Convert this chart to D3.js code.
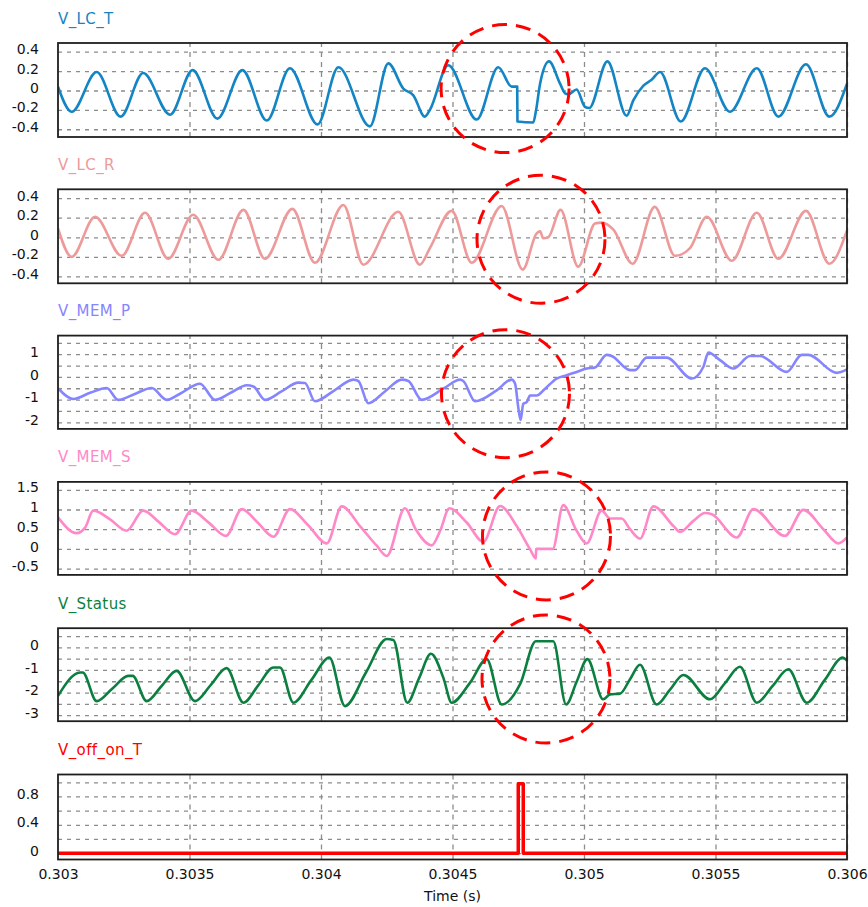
<!DOCTYPE html>
<html>
<head>
<meta charset="utf-8">
<script src="https://cdn.jsdelivr.net/npm/d3@7"></script>
<style>
  html, body { margin: 0; padding: 0; background: #fff; }
  svg { display: block; }
</style>
</head>
<body>
<svg id="chart" width="868" height="907"></svg>
<script>
// ---- Time axis ----
const timeDomain = [0.303, 0.306];
const timeTicks = [0.303, 0.3035, 0.304, 0.3045, 0.305, 0.3055, 0.306];
const timeTickLabels = ["0.303", "0.3035", "0.304", "0.3045", "0.305", "0.3055", "0.306"];
const timeAxisTitle = "Time (s)";

// ---- Waveforms: [time (s), value] ----
const vLcT = [
  [0.303000, 0.04], [0.303052, -0.22], [0.303147, 0.19], [0.303238, -0.27], [0.303324, 0.18],
  [0.303426, -0.25], [0.303512, 0.21], [0.303606, -0.29], [0.303701, 0.21], [0.303794, -0.31],
  [0.303882, 0.23], [0.303987, -0.35], [0.304066, 0.24], [0.304186, -0.37], [0.304256, 0.28],
  [0.304313, 0.02], [0.304351, -0.05], [0.304395, -0.27], [0.304414, -0.20], [0.304484, 0.26],
  [0.304592, -0.30], [0.304674, 0.24], [0.304725, 0.04], [0.304746, 0.04], [0.304747, -0.32],
  [0.304807, -0.33], [0.304818, -0.20], [0.304833, 0.07], [0.304867, 0.30], [0.304909, 0.07],
  [0.304928, -0.03], [0.304940, -0.04], [0.304972, 0.01], [0.305004, -0.17], [0.305020, -0.18],
  [0.305089, 0.30], [0.305162, -0.26], [0.305188, -0.10], [0.305226, 0.05], [0.305257, 0.11],
  [0.305289, 0.19], [0.305368, -0.32], [0.305460, 0.23], [0.305555, -0.22], [0.305657, 0.23],
  [0.305739, -0.27], [0.305844, 0.27], [0.305933, -0.27], [0.306000, 0.07]
];

const vLcR = [
  [0.303000, 0.09], [0.303052, -0.20], [0.303141, 0.21], [0.303242, -0.19], [0.303331, 0.25],
  [0.303419, -0.22], [0.303514, 0.23], [0.303610, -0.23], [0.303705, 0.28], [0.303787, -0.22],
  [0.303891, 0.29], [0.303977, -0.26], [0.304085, 0.33], [0.304161, -0.28], [0.304294, 0.26],
  [0.304376, -0.28], [0.304414, -0.11], [0.304497, 0.27], [0.304573, -0.26], [0.304687, 0.32],
  [0.304767, -0.33], [0.304820, 0.04], [0.304833, 0.06], [0.304845, -0.01], [0.304864, 0.00],
  [0.304911, 0.28], [0.304978, -0.30], [0.305042, 0.14], [0.305067, 0.15], [0.305111, 0.08],
  [0.305185, -0.27], [0.305269, 0.31], [0.305346, -0.19], [0.305403, -0.11], [0.305467, 0.21],
  [0.305562, -0.24], [0.305657, 0.25], [0.305739, -0.22], [0.305844, 0.27], [0.305933, -0.27],
  [0.306000, 0.07]
];

const vMemP = [
  [0.303000, -0.49], [0.303058, -0.97], [0.303122, -0.70], [0.303185, -0.49], [0.303229, -1.01],
  [0.303292, -0.75], [0.303356, -0.49], [0.303413, -1.01], [0.303464, -0.74], [0.303540, -0.30],
  [0.303597, -1.01], [0.303657, -0.70], [0.303718, -0.37], [0.303743, -0.42], [0.303787, -1.01],
  [0.303850, -0.64], [0.303914, -0.25], [0.303939, -0.27], [0.303977, -1.07], [0.304050, -0.60],
  [0.304123, -0.12], [0.304142, -0.18], [0.304180, -1.16], [0.304243, -0.64], [0.304307, -0.12],
  [0.304332, -0.18], [0.304383, -1.01], [0.304465, -0.52], [0.304529, -0.12], [0.304541, -0.18],
  [0.304586, -1.07], [0.304668, -0.59], [0.304725, -0.12], [0.304738, -0.30], [0.304750, -1.34],
  [0.304759, -1.90], [0.304769, -1.19], [0.304782, -1.11], [0.304795, -0.82], [0.304820, -0.82],
  [0.304852, -0.52], [0.304896, -0.07], [0.304934, 0.07], [0.304972, 0.22], [0.305010, 0.37],
  [0.305042, 0.42], [0.305086, 0.97], [0.305105, 0.92], [0.305175, 0.30], [0.305194, 0.30],
  [0.305238, 0.85], [0.305314, 0.85], [0.305410, -0.07], [0.305454, 0.45], [0.305473, 1.07],
  [0.305517, 0.74], [0.305568, 0.37], [0.305631, 0.92], [0.305669, 0.92], [0.305771, 0.22],
  [0.305828, 0.97], [0.305853, 0.97], [0.305961, 0.18], [0.306000, 0.33]
];

const vMemS = [
  [0.303000, 0.80], [0.303071, 0.40], [0.303103, 0.54], [0.303134, 0.97], [0.303198, 0.75],
  [0.303261, 0.46], [0.303324, 0.97], [0.303384, 0.68], [0.303445, 0.37], [0.303508, 0.97],
  [0.303574, 0.66], [0.303639, 0.33], [0.303699, 1.01], [0.303759, 0.67], [0.303819, 0.31],
  [0.303882, 1.01], [0.303951, 0.60], [0.304022, 0.14], [0.304079, 1.08], [0.304148, 0.58],
  [0.304212, 0.08], [0.304250, -0.18], [0.304319, 1.03], [0.304360, 0.50], [0.304421, 0.09],
  [0.304453, 0.46], [0.304488, 1.03], [0.304554, 0.67], [0.304617, 0.18], [0.304681, 1.09],
  [0.304744, 0.58], [0.304795, -0.01], [0.304817, -0.24], [0.304818, 0.00], [0.304881, 0.00],
  [0.304921, 1.11], [0.304972, 0.46], [0.305010, 0.14], [0.305067, 0.97], [0.305099, 0.77],
  [0.305143, 0.77], [0.305175, 0.50], [0.305213, 0.26], [0.305264, 1.08], [0.305340, 0.58],
  [0.305365, 0.43], [0.305416, 0.71], [0.305460, 0.91], [0.305486, 0.88], [0.305581, 0.29],
  [0.305644, 1.01], [0.305764, 0.33], [0.305834, 0.99], [0.305910, 0.50], [0.305967, 0.14],
  [0.306000, 0.29]
];

const vStatus = [
  [0.303000, -2.15], [0.303084, -1.11], [0.303094, -1.11], [0.303147, -2.38], [0.303207, -1.82],
  [0.303267, -1.26], [0.303284, -1.26], [0.303337, -2.38], [0.303394, -1.71], [0.303451, -1.04],
  [0.303521, -2.38], [0.303582, -1.65], [0.303641, -0.92], [0.303705, -2.45], [0.303762, -1.67],
  [0.303819, -0.89], [0.303844, -0.89], [0.303895, -2.45], [0.303963, -1.45], [0.304032, -0.45],
  [0.304091, -2.60], [0.304171, -1.11], [0.304250, 0.37], [0.304275, 0.33], [0.304328, -2.45],
  [0.304373, -1.36], [0.304418, -0.28], [0.304465, -1.34], [0.304497, -2.45], [0.304567, -1.56],
  [0.304630, -0.52], [0.304687, -2.53], [0.304757, -1.63], [0.304817, 0.27], [0.304883, 0.27],
  [0.304932, -2.53], [0.304972, -1.52], [0.305013, -0.52], [0.305073, -2.30], [0.305099, -2.08],
  [0.305137, -2.05], [0.305175, -1.41], [0.305213, -0.77], [0.305276, -2.53], [0.305327, -1.87],
  [0.305378, -1.22], [0.305479, -2.30], [0.305536, -1.58], [0.305593, -0.86], [0.305657, -2.45],
  [0.305717, -1.71], [0.305777, -0.97], [0.305847, -2.45], [0.305915, -1.45], [0.305984, -0.45],
  [0.306000, -0.59]
];

const vOffOnT = [
  [0.303000, 0], [0.304750, 0], [0.304750, 0.98], [0.304769, 0.98], [0.304769, 0], [0.306000, 0]
];

// ---- Panel definitions ----
const seriesNames = ["V_LC_T", "V_LC_R", "V_MEM_P", "V_MEM_S", "V_Status", "V_off_on_T"];
const seriesColors = ["#1485c4", "#ee9a9a", "#8585ff", "#ff88c8", "#0a7f3f", "#ff0000"];
const seriesData = [vLcT, vLcR, vMemP, vMemS, vStatus, vOffOnT];
const yDomains = [[-0.48, 0.49], [-0.47, 0.49], [-2.29, 1.82], [-0.66, 1.70], [-3.27, 0.85], [-0.09, 1.11]];
const yTickLabels = [
  [-0.4, -0.2, 0, 0.2, 0.4],
  [-0.4, -0.2, 0, 0.2, 0.4],
  [-2, -1, 0, 1],
  [-0.5, 0, 0.5, 1, 1.5],
  [-3, -2, -1, 0],
  [0, 0.4, 0.8]
];
const yGridValues = [
  [-0.4, -0.2, 0, 0.2, 0.4],
  [-0.4, -0.2, 0, 0.2, 0.4],
  [-2, -1.5, -1, -0.5, 0, 0.5, 1, 1.5],
  [-0.5, 0, 0.5, 1, 1.5],
  [-3, -2.5, -2, -1.5, -1, -0.5, 0, 0.5],
  [0, 0.2, 0.4, 0.6, 0.8, 1.0]
];

// Dashed ellipses marking the disturbance: panel, centre time, centre value
const highlights = [
  { panel: 0, t: 0.3047000, v: 0.02 },
  { panel: 1, t: 0.3048365, v: -0.02 },
  { panel: 2, t: 0.3047015, v: -0.74 },
  { panel: 3, t: 0.3048574, v: 0.33 },
  { panel: 4, t: 0.3048555, v: -1.40 }
];

// ---- Layout ----
const FONT = "'DejaVu Sans', Verdana, sans-serif";
const plotLeft = 58, plotRight = 847;
const firstTop = 43, panelStep = 146.3;
const panelHeights = [94, 94, 93.3, 93, 93, 85];

const svg = d3.select("#chart");
const x = d3.scaleLinear().domain(timeDomain).range([plotLeft, plotRight]);
const yScales = [];

seriesNames.forEach((name, i) => {
  const top = firstTop + i * panelStep;
  const h = panelHeights[i];
  const y = d3.scaleLinear().domain(yDomains[i]).range([top + h, top]);
  yScales.push(y);
  const g = svg.append("g");

  // Plot background
  g.append("rect")
    .attr("x", plotLeft).attr("y", top)
    .attr("width", plotRight - plotLeft).attr("height", h)
    .attr("fill", "#fff");

  // Horizontal grid
  const hGrid = g.append("g")
    .attr("transform", `translate(${plotLeft},0)`)
    .call(d3.axisLeft(y).tickValues(yGridValues[i]).tickSize(-(plotRight - plotLeft)).tickFormat(""));
  hGrid.select(".domain").remove();
  hGrid.selectAll("line")
    .attr("stroke", "#8c8c8c").attr("stroke-width", 1.3).attr("stroke-dasharray", "4 5");

  // Vertical grid
  const vGrid = g.append("g")
    .attr("transform", `translate(0,${top + h})`)
    .call(d3.axisBottom(x).tickValues(timeTicks.slice(1)).tickSize(-h).tickFormat(""));
  vGrid.select(".domain").remove();
  vGrid.selectAll("line")
    .attr("stroke", "#8c8c8c").attr("stroke-width", 1.3).attr("stroke-dasharray", "5 5");

  // Y tick labels
  const yAxis = g.append("g")
    .attr("transform", `translate(${plotLeft},0)`)
    .call(d3.axisLeft(y).tickValues(yTickLabels[i]).tickSize(0).tickPadding(19).tickFormat(d => String(d)));
  yAxis.select(".domain").remove();
  yAxis.attr("font-family", FONT).attr("font-size", 14);
  yAxis.selectAll("text").attr("fill", "#111").attr("dy", "0.15em");

  // Waveform
  const clipId = "clip" + i;
  svg.append("clipPath").attr("id", clipId)
    .append("rect")
    .attr("x", plotLeft).attr("y", top)
    .attr("width", plotRight - plotLeft).attr("height", h);

  const line = d3.line()
    .x(d => x(d[0]))
    .y(d => y(d[1]))
    .curve(i === 5 ? d3.curveLinear : d3.curveMonotoneX);

  g.append("path")
    .datum(seriesData[i])
    .attr("clip-path", `url(#${clipId})`)
    .attr("fill", "none")
    .attr("stroke", seriesColors[i])
    .attr("stroke-width", i === 5 ? 3.5 : 2.6)
    .attr("stroke-linejoin", "round")
    .attr("d", line);

  // Frame
  g.append("rect")
    .attr("x", plotLeft).attr("y", top)
    .attr("width", plotRight - plotLeft).attr("height", h)
    .attr("fill", "none").attr("stroke", "#1e1e1e").attr("stroke-width", 1.8);

  // Title
  g.append("text")
    .attr("x", plotLeft).attr("y", top - 19.5)
    .attr("font-family", FONT).attr("font-size", 15)
    .attr("letter-spacing", 0.4)
    .attr("fill", seriesColors[i])
    .text(name);
});

// Time axis under the last panel
const lastBottom = firstTop + 5 * panelStep + panelHeights[5];
const xAxis = svg.append("g")
  .attr("transform", `translate(0,${lastBottom})`)
  .call(d3.axisBottom(x).tickValues(timeTicks).tickSize(0).tickPadding(9.5)
    .tickFormat((d, i) => timeTickLabels[i]));
xAxis.select(".domain").remove();
xAxis.attr("font-family", FONT).attr("font-size", 14);
xAxis.selectAll("text").attr("fill", "#111");

svg.append("text")
  .attr("x", (plotLeft + plotRight) / 2).attr("y", 901)
  .attr("text-anchor", "middle")
  .attr("font-family", FONT).attr("font-size", 14)
  .attr("fill", "#111")
  .text(timeAxisTitle);

// Highlight ellipses
svg.append("g").selectAll("circle")
  .data(highlights)
  .join("circle")
  .attr("cx", d => x(d.t))
  .attr("cy", d => yScales[d.panel](d.v))
  .attr("r", 64)
  .attr("fill", "none")
  .attr("stroke", "#ff0000")
  .attr("stroke-width", 3)
  .attr("stroke-dasharray", "15 9");
</script>
</body>
</html>
